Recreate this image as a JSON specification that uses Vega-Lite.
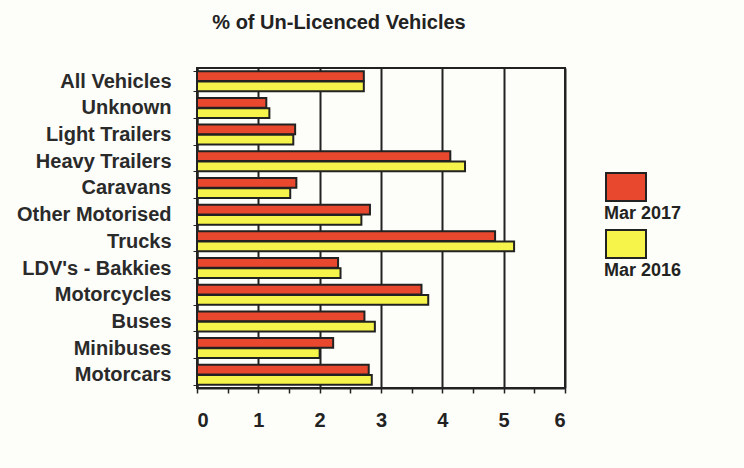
{
  "$schema": "https://vega.github.io/schema/vega-lite/v6.json",
  "width": 368,
  "height": 320,
  "autosize": "none",
  "padding": {"left": 197, "top": 68, "right": 179, "bottom": 80},
  "background": "#fdfdf9",
  "title": {"text": "% of Un-Licenced Vehicles", "fontSize": 20, "font": "Liberation Sans", "fontWeight": "bold", "color": "#222", "offset": 25, "dx": -42},
  "data": {"values": [
    {"cat": "All Vehicles", "series": "Mar 2017", "v": 2.72},
    {"cat": "All Vehicles", "series": "Mar 2016", "v": 2.72},
    {"cat": "Unknown", "series": "Mar 2017", "v": 1.13},
    {"cat": "Unknown", "series": "Mar 2016", "v": 1.18},
    {"cat": "Light Trailers", "series": "Mar 2017", "v": 1.6},
    {"cat": "Light Trailers", "series": "Mar 2016", "v": 1.57},
    {"cat": "Heavy Trailers", "series": "Mar 2017", "v": 4.13},
    {"cat": "Heavy Trailers", "series": "Mar 2016", "v": 4.37},
    {"cat": "Caravans", "series": "Mar 2017", "v": 1.62},
    {"cat": "Caravans", "series": "Mar 2016", "v": 1.52},
    {"cat": "Other Motorised", "series": "Mar 2017", "v": 2.82},
    {"cat": "Other Motorised", "series": "Mar 2016", "v": 2.68},
    {"cat": "Trucks", "series": "Mar 2017", "v": 4.86},
    {"cat": "Trucks", "series": "Mar 2016", "v": 5.17},
    {"cat": "LDV's - Bakkies", "series": "Mar 2017", "v": 2.3},
    {"cat": "LDV's - Bakkies", "series": "Mar 2016", "v": 2.34},
    {"cat": "Motorcycles", "series": "Mar 2017", "v": 3.66},
    {"cat": "Motorcycles", "series": "Mar 2016", "v": 3.77},
    {"cat": "Buses", "series": "Mar 2017", "v": 2.73},
    {"cat": "Buses", "series": "Mar 2016", "v": 2.9},
    {"cat": "Minibuses", "series": "Mar 2017", "v": 2.22},
    {"cat": "Minibuses", "series": "Mar 2016", "v": 2.0},
    {"cat": "Motorcars", "series": "Mar 2017", "v": 2.8},
    {"cat": "Motorcars", "series": "Mar 2016", "v": 2.85}
  ]},
  "mark": {"type": "bar", "stroke": "#222", "strokeWidth": 2},
  "encoding": {
    "y": {
      "field": "cat", "type": "nominal", "title": null,
      "sort": ["All Vehicles", "Unknown", "Light Trailers", "Heavy Trailers", "Caravans", "Other Motorised", "Trucks", "LDV's - Bakkies", "Motorcycles", "Buses", "Minibuses", "Motorcars"],
      "scale": {"paddingInner": 0.25, "paddingOuter": 0.12},
      "axis": {"labelFont": "Liberation Sans", "labelFontWeight": "bold", "labelFontSize": 20, "labelColor": "#2a2a2a", "labelPadding": 22, "ticks": true, "tickBand": "extent", "tickSize": 4, "tickColor": "#222", "domainColor": "#222", "domainWidth": 2}
    },
    "yOffset": {"field": "series", "type": "nominal", "sort": ["Mar 2017", "Mar 2016"], "scale": {"paddingInner": 0.05}},
    "x": {
      "field": "v", "type": "quantitative", "title": null,
      "scale": {"domain": [0, 6], "nice": false},
      "axis": {
        "values": [0, 0.5, 1, 1.5, 2, 2.5, 3, 3.5, 4, 4.5, 5, 5.5, 6],
        "labelExpr": "datum.value % 1 === 0 ? format(datum.value, 'd') : ''",
        "labelFont": "Liberation Sans", "labelFontWeight": "bold", "labelFontSize": 20, "labelColor": "#222", "labelPadding": 17,
        "grid": true, "gridColor": "#222", "gridWidth": 2,
        "gridOpacity": {"condition": {"test": "datum.value % 1 !== 0", "value": 0}, "value": 1},
        "tickColor": "#222", "tickSize": 5, "tickWidth": 1.5, "domainColor": "#222", "domainWidth": 2
      }
    },
    "color": {
      "field": "series", "type": "nominal",
      "scale": {"domain": ["Mar 2017", "Mar 2016"], "range": ["#e8482e", "#f6f44a"]},
      "legend": {
        "title": null, "orient": "none", "legendX": 408, "legendY": 125, "padding": 0,
        "symbolType": "M-1,-2.05H1V-0.65H-1Z", "symbolSize": 1600, "symbolStrokeColor": "#222", "symbolStrokeWidth": 2, "symbolOpacity": 1,
        "rowPadding": 3, "labelOffset": -43,
        "labelFont": "Liberation Sans", "labelFontWeight": "bold", "labelFontSize": 18, "labelColor": "#222", "labelLimit": 200
      }
    }
  },
  "config": {"view": {"stroke": "#222", "strokeWidth": 2}}
}
